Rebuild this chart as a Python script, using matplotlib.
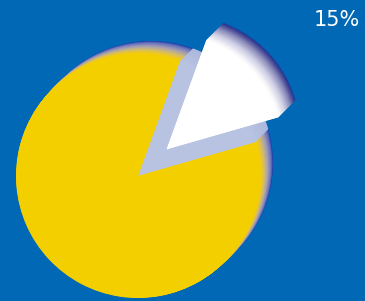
import numpy as np
import matplotlib
matplotlib.use("Agg")
import matplotlib.pyplot as plt

# ---- data ----
shares = [15, 85]
slice_labels = ["15%", ""]
highlight_label = "15%"

# ---- style ----
BG = "#0068b4"

W, H = 365, 301
R = 122.0              # pixel radius of the pie top face
cx, cy = 138.0, 176.0  # pixel centre (from top-left)

fig = plt.figure(figsize=(W / 100, H / 100), dpi=100, facecolor=BG)
ax = fig.add_axes([0, 0, 1, 1])
ax.set_facecolor(BG)


def grad(stops, t):
    ts = [s[0] for s in stops]
    cols = np.array([s[1] for s in stops], dtype=float) / 255
    return tuple(np.array([np.interp(t, ts, cols[:, i]) for i in range(3)]))


yellow_stops = [(0.0, (244, 207, 0)), (0.12, (240, 203, 30)), (0.35, (210, 188, 110)),
                (0.6, (165, 160, 180)), (0.82, (115, 122, 190)), (0.93, (75, 95, 182)),
                (1.0, (25, 60, 170))]
white_stops = [(0.0, (255, 255, 255)), (0.12, (245, 245, 250)), (0.4, (205, 205, 228)),
               (0.68, (140, 140, 188)), (0.88, (75, 78, 150)), (0.95, (50, 60, 145)),
               (1.0, (30, 60, 165))]
lb_stops = [(0.0, (184, 195, 226)), (1.0, (172, 184, 220))]

start = 16
N = 48
ext_base = 13 / R       # extrusion offset (units of radius)
ext_white = 17 / R
explode_white = 39 / R
r_white = 0.955

# base pie (light-blue hole + yellow), extruded toward upper right
for k in range(N, -1, -1):
    t = k / N
    off = ext_base * t
    ax.pie(shares, colors=[grad(lb_stops, t), grad(yellow_stops, t)],
           startangle=start, counterclock=True, radius=1.0,
           center=(off, off), wedgeprops=dict(linewidth=0), frame=True)

# exploded white slice, extruded toward upper right
for k in range(N, -1, -1):
    t = k / N
    off = ext_white * t
    ax.pie(shares, colors=[grad(white_stops, t), "none"],
           startangle=start, counterclock=True, radius=r_white,
           explode=[explode_white, 0], center=(off, off),
           wedgeprops=dict(linewidth=0), frame=True)

ax.set_xlim(-cx / R, (W - cx) / R)
ax.set_ylim(-(H - cy) / R, cy / R)
ax.set_aspect("auto")
ax.axis("off")

fig.text(0.985, 0.933, highlight_label, color="white", fontsize=15,
         ha="right", va="center", family="DejaVu Sans")

fig.savefig("out.png", dpi=100, facecolor=BG)
